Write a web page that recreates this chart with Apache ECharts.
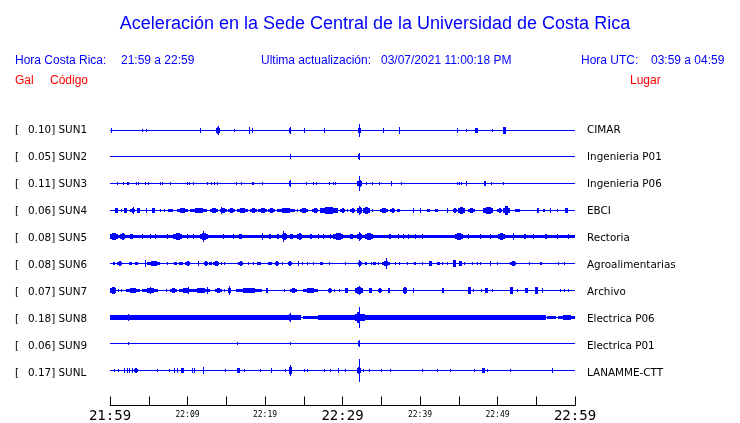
<!DOCTYPE html>
<html>
<head>
<meta charset="utf-8">
<script src="https://cdn.jsdelivr.net/npm/echarts@6/dist/echarts.min.js"></script>
<style>
html,body{margin:0;padding:0;background:#fff;}
#chart{width:740px;height:423px;}
</style>
</head>
<body>
<div id="chart"></div>
<script>
// ---------- data ----------
const stations = ['SUN1','SUN2','SUN3','SUN4','SUN5','SUN6','SUN7','SUN8','SUN9','SUNL'];
const peakGal = ['0.10','0.05','0.11','0.06','0.08','0.08','0.07','0.18','0.06','0.17'];
const places = ['CIMAR','Ingenieria P01','Ingenieria P06','EBCI','Rectoria','Agroalimentarias','Archivo','Electrica P06','Electrica P01','LANAMME-CTT'];
const tickLabels = ['21:59','22:09','22:19','22:29','22:39','22:49','22:59'];
const titleText = 'Aceleración en la Sede Central de la Universidad de Costa Rica';

// events: [start minute, end minute, relative amplitude (full scale 12)], minutes after 21:59
const sun1 = [[0.13,0.13,1.5],[4.17,4.17,1],[4.68,4.68,1],[11.57,11.57,2],[13.68,14.19,2.5],[13.97,13.97,4],[16.04,16.04,1],[17.97,17.97,3],[18.28,18.28,1.5],[23.1,23.35,2],[23.23,23.23,3],[25.07,25.07,2],[27.65,27.65,2],[31.94,32.39,2],[32.17,32.17,6],[35.26,35.26,2],[37.25,37.25,2.5],[44.81,44.81,1.5],[45.94,45.94,1],[47.1,47.45,2],[49.25,49.25,1],[50.67,51.1,2.5],[50.9,50.9,3]];
const sun2 = [[23.23,23.23,2],[32.0,32.26,2.5],[32.17,32.17,3.5]];
const sun3 = [[0.86,0.86,1],[1.64,1.64,1.5],[2.19,2.39,1.5],[3.35,3.35,1.5],[3.65,3.65,1.5],[4.52,4.52,1.5],[4.86,4.86,1.5],[6.45,6.45,1.5],[6.75,6.75,1.5],[7.78,7.78,1],[9.9,9.9,1],[10.23,10.23,1],[10.75,10.75,1],[12.55,12.55,1.5],[13.03,13.03,1],[13.46,13.46,1],[13.85,13.85,1],[16.3,16.3,1.5],[16.9,16.9,1.5],[18.32,18.52,1.5],[19.65,19.65,1.5],[23.1,23.35,2.5],[23.23,23.23,3.5],[25.33,25.33,1],[26.15,26.15,1.5],[26.54,26.54,1.5],[28.3,28.3,1.5],[28.77,28.77,1.5],[29.03,29.03,1.5],[31.87,32.52,3],[32.17,32.17,7],[33.03,33.03,1.5],[33.85,33.85,1.5],[34.75,34.75,1.5],[36.26,36.45,2],[37.59,37.59,1.5],[44.74,44.74,1.5],[45.03,45.03,1.5],[45.29,45.29,1.5],[45.9,45.9,2],[48.26,48.58,2],[49.12,49.12,1],[50.75,50.75,1]];
const sun4 = [[0.65,1.03,1.5],[1.38,1.38,1],[1.81,2.19,1.5],[2.58,3.23,2],[2.97,2.97,3],[3.45,3.87,1.5],[4.61,4.61,1.5],[5.46,5.81,1.5],[6.45,6.45,1],[6.97,6.97,1],[7.45,8.17,1],[8.61,10.1,1.5],[10.32,12.48,2],[12.9,13.97,1.5],[14.19,15.06,2],[14.32,14.32,3],[15.26,16.13,1.5],[16.35,17.85,1.5],[18.06,18.93,1.5],[19.06,20.22,1.5],[20.43,21.29,2],[21.51,23.87,1.5],[24.09,24.3,1],[24.52,25.59,1.5],[26.03,26.88,1.5],[27.1,29.46,2.5],[28.13,28.13,3],[29.68,30.32,1.5],[30.54,30.54,1],[30.97,31.61,1.5],[31.83,32.48,2.5],[32.17,32.17,3.5],[32.61,33.55,3],[33.77,33.77,1],[34.84,35.91,1.5],[36.13,36.77,1.5],[36.99,37.42,1],[39.14,39.14,1.5],[40,40,1.5],[40.94,41.29,1],[41.94,42.36,1],[43.45,43.45,1.5],[44.3,44.74,1.5],[44.94,45.81,3],[46.23,47.1,1.5],[48.17,49.46,3],[49.9,50.54,1.5],[50.75,51.61,3.5],[52.26,52.9,1],[55.06,55.39,1.5],[55.91,56.13,1],[56.77,56.77,1.5],[57.72,57.72,1],[58.71,59.14,1.5]];
const sun5 = [[0,60,1],[0,1.07,3],[1.29,1.94,3.5],[2.36,3.23,2],[4.09,4.09,2],[5.16,5.16,2],[5.81,5.81,2],[7.32,7.32,2],[8.17,9.25,3],[9.9,9.9,2],[10.75,10.75,2],[11.61,12.68,3.5],[12.04,12.04,6],[14.62,14.62,2],[15.91,15.91,2],[16.35,17.2,2],[19.57,19.57,3],[20.43,20.86,2],[21.29,21.94,2],[22.15,22.8,3],[22.36,22.36,6],[23.23,23.65,2],[24.09,24.74,3],[25.81,26.03,2],[26.88,26.88,2],[27.52,27.52,2],[28.39,28.39,2],[28.81,30.1,3],[30.75,31.61,2],[31.83,32.48,3],[32.17,32.17,5],[32.9,33.97,3],[35.91,36.35,2.5],[37.2,37.2,2],[37.85,37.85,2],[38.49,38.49,2],[39.35,39.35,2],[40.22,40.22,2],[44.52,45.59,4],[46.23,46.23,2],[47.74,47.74,2],[49.03,49.03,2],[50.1,50.97,3.5],[52.04,52.04,4],[53.12,53.77,2],[54.62,54.62,2],[55.91,56.55,2],[57.64,57.64,2],[59.14,59.14,2.5]];
const sun6 = [[0.43,0.65,1],[0.86,1.51,2],[2.45,2.8,1.5],[3.23,3.65,1.5],[4.55,4.55,3.5],[4.74,6.45,2],[7.39,7.39,1.5],[8.3,8.61,1.5],[8.9,9.46,1.5],[9.68,10.32,2],[11.39,11.39,2.5],[12.17,12.68,2],[12.77,13.12,1.5],[13.33,14.06,2],[14.32,14.32,1.5],[14.75,14.75,1.5],[16.48,17.2,2],[16.9,16.9,2.5],[17.77,17.77,1],[18.41,18.41,1.5],[19.01,19.45,1.5],[20.35,20.86,1.5],[21.29,21.81,2],[22.15,22.15,1],[23.01,23.45,2],[24.22,24.22,2.5],[24.74,24.74,1.5],[25.38,25.38,1.5],[26.23,26.23,1],[27.1,27.52,1.5],[28.3,28.3,1],[30.32,30.32,1],[32.04,32.48,2],[32.17,32.17,3.5],[32.9,33.2,1.5],[33.64,33.64,1.5],[33.97,34.32,1.5],[34.62,34.62,1],[35.06,36.13,2],[35.57,35.57,5],[36.77,36.77,1],[37.33,37.33,1],[38.28,38.28,1],[39.23,39.48,1.5],[40.22,40.22,1],[41.2,41.51,2.5],[42.23,42.58,1.5],[42.8,42.8,1],[43.45,43.45,1],[44.3,44.65,3],[45.07,45.38,2.5],[45.72,45.72,1],[46.67,46.67,1.5],[47.32,47.32,1.5],[47.74,47.74,1],[49.03,49.03,2.5],[49.9,49.9,1.5],[51.61,52.35,2],[54.06,54.06,1],[55.48,55.78,1.5],[57.77,57.77,1],[58.62,58.62,1]];
const sun7 = [[0,0.74,2.5],[1.07,1.07,1],[1.42,1.42,1],[2.06,3.87,2],[4.17,6.23,2],[5.16,5.16,3],[7.23,7.23,1],[7.74,8.61,2],[8.9,10.54,2],[10.1,10.1,3],[10.62,12.9,2],[12.55,12.55,2.5],[13.55,14.41,1.5],[14.75,14.75,1],[15.23,15.61,2],[15.39,15.39,4],[16.22,19.57,2],[20.13,20.35,1.5],[22.49,22.49,1],[23.23,24.09,2],[24.86,26.88,2],[28.09,28.61,1.5],[28.94,28.94,1],[29.55,29.68,1],[30.32,30.75,1.5],[31.61,32.68,2.5],[32.17,32.17,4],[33.46,33.77,1.5],[34.62,35.06,1.5],[35.91,36.13,1.5],[37.77,38.28,2.5],[39.14,39.14,1.5],[42.8,43.1,1.5],[46.23,46.54,2.5],[46.88,46.88,1],[47.83,47.83,1],[48.39,48.81,1.5],[49.25,49.25,1],[51.61,52.04,2.5],[52.48,52.48,1],[53.55,53.97,1.5],[54.84,55.26,2.5],[55.7,55.91,1.5],[58.06,58.06,1],[58.58,58.58,1],[59.06,59.06,1]];
const sun8 = [[0,24.65,1.5],[24.9,26.84,1],[26.84,56.26,1.5],[56.39,57.55,1],[57.81,60,1.5],[0,0.39,2],[2.36,2.36,2.5],[7.96,7.96,2],[22.97,23.48,3],[23.26,23.26,3.5],[31.61,32.52,5],[32.17,32.17,10],[32.52,32.9,3]];
const sun9 = [[2.36,2.36,1.5],[16.35,16.35,1.5],[23.26,23.26,1.5],[32.04,32.32,2.5],[32.17,32.17,3.5]];
const sunl = [[0.55,0.55,1],[1.07,1.07,1],[1.85,1.85,1.5],[2.15,2.15,1.5],[2.45,2.45,1.5],[2.8,2.8,1.5],[3.14,3.57,2],[6.1,6.1,1],[7.65,7.65,1],[8.3,8.3,1.5],[8.61,8.61,1.5],[9.16,9.59,2],[10.62,10.62,1.5],[10.88,10.88,1.5],[12,12,2.5],[14.84,14.84,1],[16.35,16.77,2],[17.33,17.33,1],[19.35,19.35,1],[20.74,20.74,2],[22.58,22.58,1],[23.14,23.45,2.5],[23.26,23.26,5],[24.99,24.99,1],[25.38,25.38,1],[27.65,27.65,1],[28.43,28.43,1],[29.46,29.46,1.5],[30.32,30.32,1],[31.87,32.39,2.5],[32.17,32.17,11],[32.68,32.68,1],[33.46,33.46,1],[34.97,34.97,1],[36.13,36.13,1],[40.3,40.3,1],[42.15,42.15,1],[43.87,43.87,1],[46.97,46.97,1],[47.96,48.39,2],[48.68,48.68,1],[51.61,51.61,1],[57.07,57.07,2]];
const traceEvents = [sun1, sun2, sun3, sun4, sun5, sun6, sun7, sun8, sun9, sunl];

// ---------- build ----------
const BLUE = '#0000ff';
const AMP_PER_SPACING = 27; // relative amplitude units per trace spacing

const eventData = [];
traceEvents.forEach((evs, k) => evs.forEach(e => eventData.push([e[0], e[1], e[2], k])));
const baseData = stations.map((s, k) => [0, 60, 0, k]);

function renderEvent(params, api) {
  const s = api.value(0), e = api.value(1), a = api.value(2), k = api.value(3);
  const d = a / AMP_PER_SPACING;
  const pTop = api.coord([s, k - d]);
  const pBot = api.coord([e, k + d]);
  const yc = Math.round(api.coord([s, k])[1]);
  const x0 = Math.round(pTop[0]);
  const x1 = Math.round(pBot[0]);
  const h = Math.max(1, Math.round(yc - Math.min(pTop[1], pBot[1])));
  const w = x1 - x0;
  if (w < 4 || w > 30 || h <= 1) {
    return { type: 'rect', shape: { x: x0, y: yc - h, width: Math.max(1, w + (s === e ? 1 : 0)), height: 2 * h + 1 }, style: { fill: BLUE } };
  }
  // burst: stepped envelope (outer lower band, inner full-amplitude core)
  const h1 = Math.max(1, Math.round(h * 0.6));
  const cw = Math.max(1, Math.round(w * 0.45));
  const cx = x0 + Math.round((w - cw) / 2);
  return {
    type: 'group',
    children: [
      { type: 'rect', shape: { x: x0, y: yc - h1, width: w, height: 2 * h1 + 1 }, style: { fill: BLUE } },
      { type: 'rect', shape: { x: cx, y: yc - h, width: cw, height: 2 * h + 1 }, style: { fill: BLUE } }
    ]
  };
}
function renderBase(params, api) {
  const k = api.value(3);
  const p0 = api.coord([api.value(0), k]);
  const p1 = api.coord([api.value(1), k]);
  return { type: 'rect', shape: { x: Math.round(p0[0]), y: Math.round(p0[1]), width: Math.round(p1[0]) - Math.round(p0[0]), height: 1 }, style: { fill: BLUE } };
}

const graphics = [];
const FONT_HDR = '12px "Liberation Sans", Arial, sans-serif';
function txt(x, y, text, color, font, align) {
  graphics.push({ type: 'text', x: x, y: y, silent: true,
    style: { text: text, fill: color, font: font, align: align || 'left', verticalAlign: 'middle',
             textAlign: align || 'left', textVerticalAlign: 'middle' } });
}
txt(375, 24, titleText, BLUE, '18px "Liberation Sans", Arial, sans-serif', 'center');
txt(15, 61, 'Hora Costa Rica:', BLUE, FONT_HDR);
txt(121, 61, '21:59 a 22:59', BLUE, FONT_HDR);
txt(261, 61, 'Ultima actualización:', BLUE, FONT_HDR);
txt(381, 61, '03/07/2021 11:00:18 PM', BLUE, FONT_HDR);
txt(581, 61, 'Hora UTC:', BLUE, FONT_HDR);
txt(651, 61, '03:59 a 04:59', BLUE, FONT_HDR);
txt(15, 81, 'Gal', '#ff0000', FONT_HDR);
txt(50, 81, 'Código', '#ff0000', FONT_HDR);
txt(630, 81, 'Lugar', '#ff0000', FONT_HDR);

const FONT_LBL = '10.4px "DejaVu Sans", sans-serif';
stations.forEach((s, k) => {
  const y = 130 + k * 27;
  txt(15, y, '[', '#000', FONT_LBL);
  txt(28, y, peakGal[k] + '] ' + s, '#000', FONT_LBL);
  txt(587, y, places[k], '#000', FONT_LBL);
});

const chart = echarts.init(document.getElementById('chart'), null, { renderer: 'canvas' });
chart.setOption({
  animation: false,
  backgroundColor: '#fff',
  grid: { left: 110, right: 165, top: 103, bottom: 14, containLabel: false },
  xAxis: {
    type: 'value', min: 0, max: 60, interval: 5, position: 'bottom',
    axisLine: { show: true, onZero: false, lineStyle: { color: '#000', width: 1 } },
    axisTick: { show: true, inside: true, length: 9, lineStyle: { color: '#000' } },
    splitLine: { show: false },
    axisLabel: {
      interval: 0, margin: 3, showMinLabel: true, showMaxLabel: true, hideOverlap: false,
      formatter: function (v) {
        if (v % 10 !== 0) return '';
        const lbl = tickLabels[v / 10];
        return v % 30 === 0 ? '{big|' + lbl + '}' : '{small|' + lbl + '}';
      },
      rich: {
        big: { fontFamily: 'DejaVu Sans Mono', fontSize: 14, color: '#000', lineHeight: 15 },
        small: { fontFamily: 'DejaVu Sans Mono', fontSize: 8, color: '#000', lineHeight: 12 }
      }
    }
  },
  yAxis: { type: 'value', min: -1, max: 10 + 1 / 3, inverse: true, show: false },
  series: [
    { type: 'custom', clip: false, silent: true, renderItem: renderBase, data: baseData, encode: { x: [0, 1], y: 3 } },
    { type: 'custom', clip: false, silent: true, renderItem: renderEvent, data: eventData, encode: { x: [0, 1], y: 3 } }
  ],
  graphic: graphics
});
</script>
</body>
</html>
